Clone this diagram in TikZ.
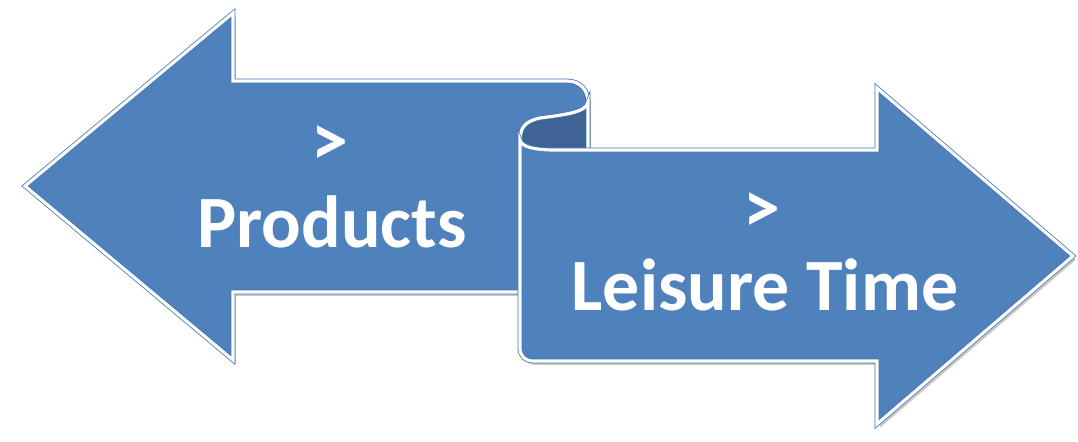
\documentclass[tikz,border=0pt]{standalone}
\usepackage{fontspec}
\setmainfont{Carlito}
\usetikzlibrary{shadows}
\definecolor{arrowblue}{HTML}{4F81BD}
\definecolor{curlblue}{HTML}{3E6496}
\definecolor{edgeblue}{HTML}{4675AD}
\begin{document}
\begin{tikzpicture}[x=0.02cm, y=-0.02cm, ribbon/.style={fill=arrowblue,draw=edgeblue,double=white,double distance=1.8pt,line width=.45pt,drop shadow={shadow xshift=1.6pt,shadow yshift=-2.2pt,opacity=.3,fill=black!70}}, curl/.style={fill=curlblue,draw=edgeblue,double=white,double distance=1.8pt,line width=.45pt}]%px grid
\useasboundingbox (0,0) rectangle (1078,441);
%left arrow, rolled at the top right
\draw[ribbon] (25,186) -- (233,13) -- (233,81) -- (567,81) .. controls (580,81) and (588,90) .. (588,102) -- (588,292) -- (233,292) -- (233,360) -- cycle;
%inside of the roll
\draw[curl] (588,102) -- (588,150) -- (555,150) .. controls (535,150) and (521,147) .. (520,140) .. controls (520,128) and (525,121) .. (540,118) .. controls (560,115) and (587,113) .. (588,102) -- cycle;
%right arrow
\draw[ribbon] (520,140) .. controls (521,147) and (535,150) .. (555,150) -- (877,150) -- (877,88) -- (1073,256) -- (877,424) -- (877,361) -- (533,361) .. controls (525,361) and (520,356) .. (520,348) -- cycle;
\begin{scope}[every node/.style={text=white,inner sep=0pt,font=\fontsize{42}{46}\selectfont\bfseries}]
\node (gtL) at (330,146) {>};%1
\node[anchor=base] (prod) at (332,247) {Products};%2
\node (gtR) at (762,213) {>};%3
\node[anchor=base] (leis) at (765,310) {Leisure Time};%4
\end{scope}
\end{tikzpicture}
\end{document}
